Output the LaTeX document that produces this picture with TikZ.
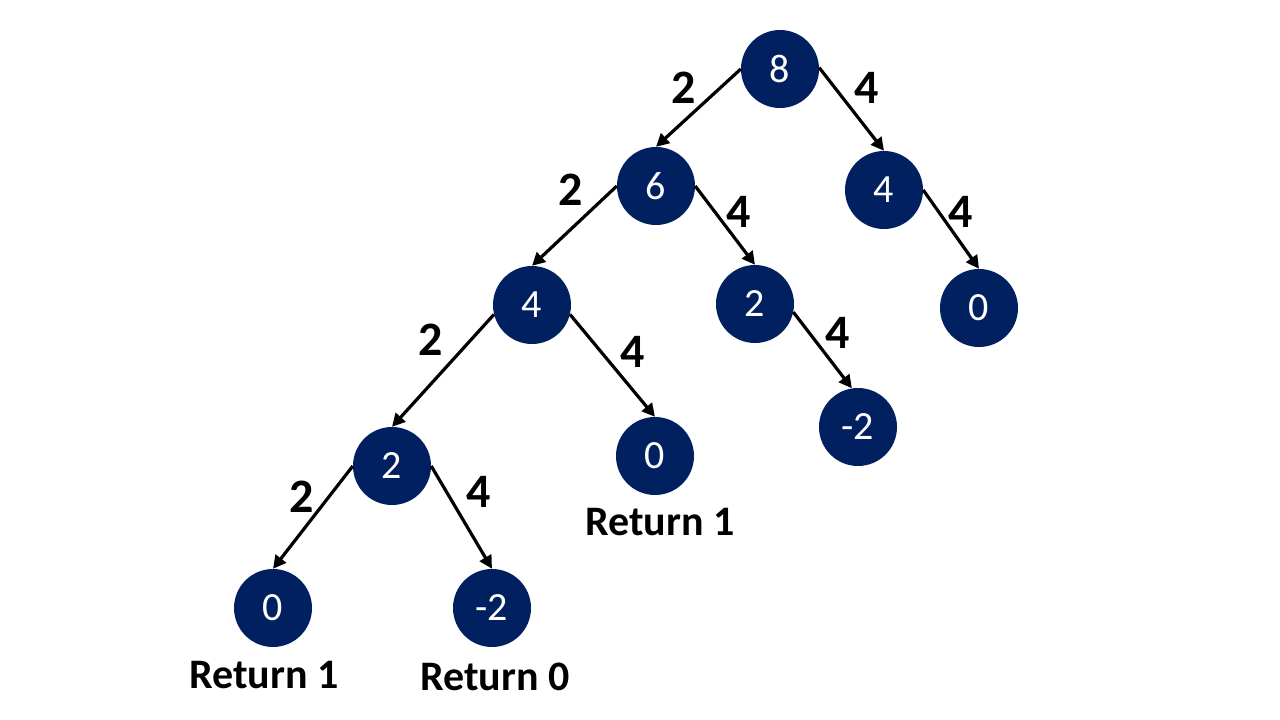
\documentclass[tikz,border=0pt]{standalone}
\usepackage{fontspec}
\setmainfont{Carlito}
\usetikzlibrary{arrows.meta}
\definecolor{navy}{HTML}{002060}
\tikzset{
  tnode/.style={circle, fill=navy, inner sep=0pt, minimum size=78pt, text=white, font=\fontsize{40}{40}\selectfont},
  wlabel/.style={font=\bfseries\fontsize{48}{48}\selectfont, inner sep=0pt},
  ret/.style={font=\bfseries\fontsize{42}{42}\selectfont, inner sep=0pt, anchor=base},
  conn/.style={line width=3.2pt, -{Triangle[length=13pt,width=13pt]}}
}
\begin{document}
\begin{tikzpicture}[x=1pt,y=-1pt]
\useasboundingbox (0,0) rectangle (1280,720);
\node[tnode] (n8) at (780,69) {8};
\node[tnode] (n6) at (656,186) {6};
\node[tnode] (n4r) at (884,190) {4};
\node[tnode] (n4l) at (532,305) {4};
\node[tnode] (n2m) at (755,304) {2};
\node[tnode] (n0r) at (979,308) {0};
\node[tnode] (n2l) at (392,466) {2};
\node[tnode] (n0m) at (655,456) {0};
\node[tnode] (nm2m) at (858,427) {-2};
\node[tnode] (n0bl) at (273,608) {0};
\node[tnode] (nm2b) at (492,608) {-2};

\draw[conn] (n8.180) -- (n6.north);
\draw[conn] (n8.2) -- (n4r.north);
\draw[conn] (n6.180) -- (n4l.north);
\draw[conn] (n6.0) -- (n2m.north);
\draw[conn] (n4r.0) -- (n0r.north);
\draw[conn] (n4l.194) -- (n2l.north);
\draw[conn] (n4l.346) -- (n0m.north);
\draw[conn] (n2m.348) -- (nm2m.99);
\draw[conn] (n2l.180) -- (n0bl.north);
\draw[conn] (n2l.0) -- (nm2b.north);

\node[wlabel] (l1) at (684,88) {2};
\node[wlabel] (l2) at (867,88) {4};
\node[wlabel] (l3) at (571,190) {2};
\node[wlabel] (l4) at (739,212) {4};
\node[wlabel] (l5) at (961,212) {4};
\node[wlabel] (l6) at (431,340) {2};
\node[wlabel] (l7) at (633,352) {4};
\node[wlabel] (l8) at (838,333) {4};
\node[wlabel] (l9) at (302,497) {2};
\node[wlabel] (l10) at (479,492) {4};

\node[ret] (r1) at (660,535) {Return 1};
\node[ret] (r2) at (264,688) {Return 1};
\node[ret] (r3) at (495,690) {Return 0};
\end{tikzpicture}
\end{document}
